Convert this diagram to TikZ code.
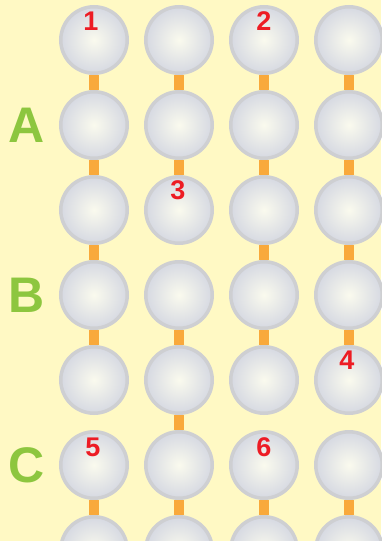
\documentclass[tikz,border=0pt]{standalone}
\usepackage{fontspec}
\setmainfont{Liberation Sans}
\definecolor{bgyellow}{RGB}{255,249,196}
\definecolor{ringgray}{RGB}{206,207,210}
\definecolor{ballgray}{RGB}{214,217,226}
\definecolor{ballcenter}{RGB}{250,250,238}
\definecolor{connorange}{RGB}{249,169,59}
\definecolor{labgreen}{RGB}{141,198,63}
\definecolor{numred}{RGB}{237,28,36}
\begin{document}
\begin{tikzpicture}[x=1pt,y=-1pt,
  ball/.style={circle,minimum size=66.5pt,inner sep=0pt,draw=ringgray,line width=3.5pt,
    shading=radial,inner color=ballcenter,outer color=ballgray},
  conn/.style={draw=connorange,line width=10pt},
  rowlabel/.style={text=labgreen,font=\bfseries\fontsize{50}{50}\selectfont,inner sep=0pt},
  numlabel/.style={text=numred,font=\bfseries\fontsize{27}{27}\selectfont,inner sep=0pt}]
\fill[bgyellow] (0,0) rectangle (381,541);
\useasboundingbox (0,0) rectangle (381,541);
\foreach \r in {1,...,7}{
  \foreach \c in {1,...,4}{
    \node[ball] (n\r\c) at ({9+85*\c},{-45+85*\r}) {};
  }
}
% connectors
\foreach \c in {1,...,4}{
  \draw[conn] (n1\c.south) -- (n2\c.north);
  \draw[conn] (n2\c.south) -- (n3\c.north);
  \draw[conn] (n4\c.south) -- (n5\c.north);
  \draw[conn] (n6\c.south) -- (n7\c.north);
}
\foreach \c in {1,3,4}{
  \draw[conn] (n3\c.south) -- (n4\c.north);
}
\draw[conn] (n52.south) -- (n62.north);
% row labels
\node[rowlabel] (la) at (27,125) {A};
\node[rowlabel] (lb) at (27,295) {B};
\node[rowlabel] (lc) at (27,465) {C};
% numbers
\node[numlabel] (t1) at (91,21) {1};
\node[numlabel] (t2) at (264,21) {2};
\node[numlabel] (t3) at (178,190) {3};
\node[numlabel] (t4) at (347,360) {4};
\node[numlabel] (t5) at (93,447) {5};
\node[numlabel] (t6) at (264,447) {6};
\end{tikzpicture}
\end{document}
